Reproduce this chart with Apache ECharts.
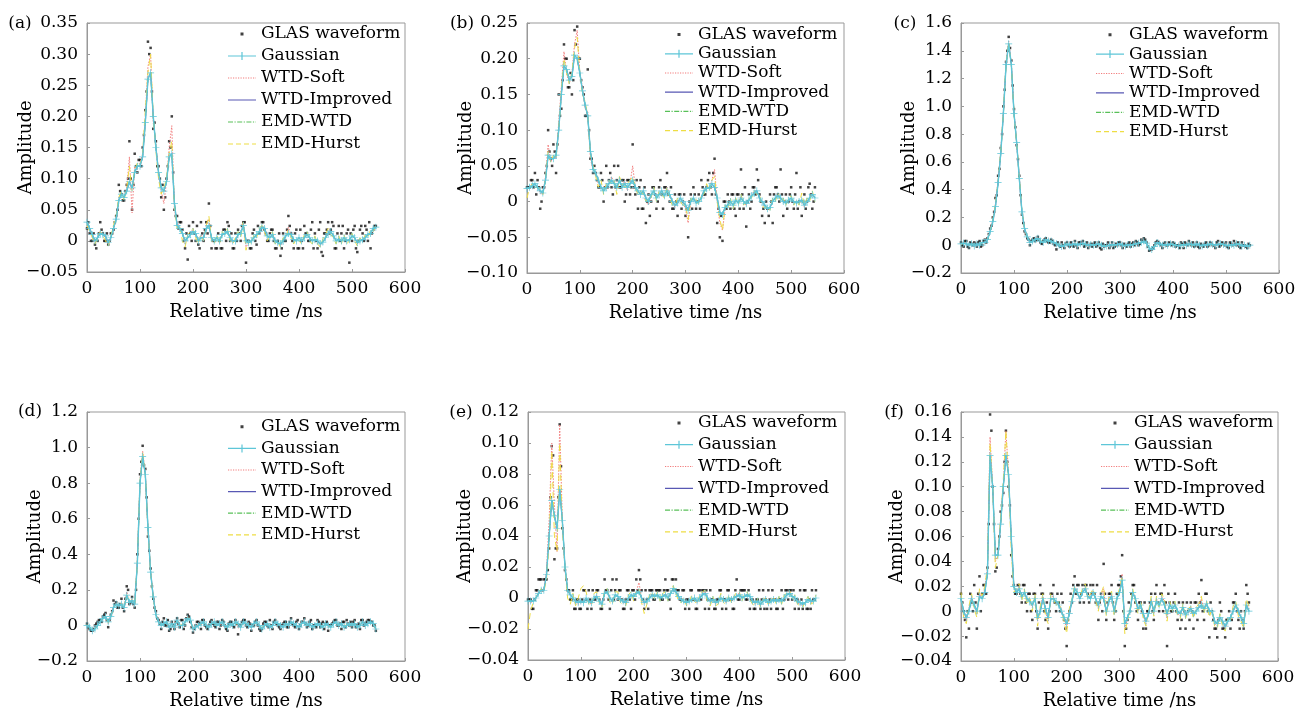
<!DOCTYPE html>
<html>
<head>
<meta charset="utf-8">
<script src="https://cdn.jsdelivr.net/npm/echarts@6/dist/echarts.min.js"></script>
<style>
html, body { margin: 0; padding: 0; background: #fff; }
#main { width: 1299px; height: 709px; }
</style>
</head>
<body>
<div id="main"></div>
<script>
// sample times (ns), shared by every panel
var times = [0,5,10,15,20,25,30,35,40,45,50,55,60,65,70,75,80,85,90,95,
  100,105,110,115,120,125,130,135,140,145,150,155,160,165,170,175,180,185,190,195,
  200,205,210,215,220,225,230,235,240,245,250,255,260,265,270,275,280,285,290,295,
  300,305,310,315,320,325,330,335,340,345,350,355,360,365,370,375,380,385,390,395,
  400,405,410,415,420,425,430,435,440,445,450,455,460,465,470,475,480,485,490,495,
  500,505,510,515,520,525,530,535,540,545];
// extra raw-waveform sample times in between
var midTimes = [2.5,7.5,12.5,17.5,22.5,27.5,32.5,37.5,42.5,47.5,52.5,57.5,62.5,67.5,72.5,77.5,82.5,87.5,92.5,97.5,
  102.5,107.5,112.5,117.5,122.5,127.5,132.5,137.5,142.5,147.5,152.5,157.5,162.5,167.5,172.5,177.5,182.5,187.5,192.5,197.5,
  202.5,207.5,212.5,217.5,222.5,227.5,232.5,237.5,242.5,247.5,252.5,257.5,262.5,267.5,272.5,277.5,282.5,287.5,292.5,297.5,
  302.5,307.5,312.5,317.5,322.5,327.5,332.5,337.5,342.5,347.5,352.5,357.5,362.5,367.5,372.5,377.5,382.5,387.5,392.5,397.5,
  402.5,407.5,412.5,417.5,422.5,427.5,432.5,437.5,442.5,447.5,452.5,457.5,462.5,467.5,472.5,477.5,482.5,487.5,492.5,497.5,
  502.5,507.5,512.5,517.5,522.5,527.5,532.5,537.5,542.5];

var seriesNames = ['GLAS waveform', 'Gaussian', 'WTD-Soft', 'WTD-Improved', 'EMD-WTD', 'EMD-Hurst'];

// (a)
var aGlas = [0.02,0.012,0,-0.006,0,0.03,0.012,0,-0.006,0.012,
  0.018,0.04,0.09,0.075,0.065,0.09,0.16,0.05,0.14,0.11,
  0.13,0.15,0.21,0.32,0.31,0.18,0.16,0.12,0.07,0.05,
  0.1,0.16,0.2,0.05,0.04,0.03,0.018,-0.012,-0.03,0.012,
  0.03,0,-0.006,0.03,0,0.03,0.06,-0.012,0,-0.012,
  0,-0.012,0.018,0.03,0,-0.012,0.012,0.018,0,0.03,
  -0.035,0,-0.012,0.018,-0.006,0.012,0.03,0.018,0,0.012,
  0.018,-0.012,0,-0.024,0.012,0,0.04,0.012,-0.012,0.018,
  -0.012,0,0.024,0.012,0,0.03,0.012,-0.012,0.03,-0.024,
  0.012,0.03,0.018,0.024,-0.012,0.024,0.012,-0.012,0.012,-0.035,
  0,0.024,-0.018,0.018,0.012,0.024,0,-0.012,0.018,0.024];
var aGlasMid = [0.03,0,0.012,-0.012,0.012,0.018,0,0.012,0,0.012,
  0.03,0.05,0.08,0.065,0.08,0.1,0.1,0.09,0.12,0.13,
  0.12,0.17,0.24,0.3,0.24,0.19,0.12,0.1,0.09,0.07,
  0.12,0.15,0.11,0.04,0.02,0.03,0,0.012,0.024,0,
  0.012,0.024,-0.012,0.012,0.018,0.012,0.024,0,-0.012,0.012,
  -0.012,0.018,0,0.024,0.012,-0.012,0,0.012,0.024,0.03,
  0,-0.012,0.012,0,0.024,0.018,0.03,0.012,0,0.018,
  0,-0.012,0.012,-0.012,0,0.018,0.024,0,0.012,-0.012,
  0.018,-0.012,0.012,0,0.018,-0.012,0,0.018,-0.018,0.012,
  0.018,0.012,0.03,-0.012,0.012,0,0.024,0,0.018,0.012,
  0.018,-0.012,0,0.024,0,0.018,0.03,0.012,0.024];
var aSmooth = [0.03,0.02,0.01,0,0.005,0.012,0.01,0.008,-0.003,0.005,
  0.02,0.035,0.065,0.075,0.07,0.08,0.095,0.085,0.11,0.12,
  0.12,0.135,0.19,0.26,0.27,0.2,0.15,0.11,0.085,0.08,
  0.095,0.135,0.14,0.06,0.025,0.02,0.012,0,0.005,0.01,
  0.015,0.012,0,0.005,0.005,0.02,0.025,0.005,0,0.005,
  0,0.01,0.012,0.015,0.005,0,0,0.01,0.012,0.025,
  0,-0.003,0,0.005,0.01,0.015,0.022,0.02,0.008,0.005,
  0.01,0,-0.003,-0.005,0,0.008,0.012,0.01,0.002,0,
  0.005,0,0.005,0.01,0.005,0,0.002,0,-0.005,-0.002,
  0.005,0.012,0.015,0.008,0,0.003,0,0.005,0,0.002,
  0.008,0.005,-0.003,0,0.002,0.005,0.01,0.012,0.02,0.022];
var aSoft = [0.03,0.02,0.008,-0.002,0.005,0.015,0.01,0.005,-0.005,0.005,
  0.02,0.035,0.07,0.075,0.07,0.085,0.135,0.045,0.12,0.115,
  0.125,0.14,0.2,0.28,0.3,0.19,0.155,0.11,0.08,0.06,
  0.095,0.15,0.185,0.05,0.03,0.02,0.012,-0.005,0.005,0.01,
  0.02,0.01,0,0.01,0.005,0.025,0.035,0,0,0.005,
  0,0.01,0.015,0.015,0.005,-0.002,0,0.01,0.012,0.028,
  -0.01,-0.003,0,0.005,0.01,0.015,0.025,0.02,0.008,0.005,
  0.012,0,-0.003,-0.008,0,0.008,0.022,0.01,0,0,
  0.005,0,0.008,0.01,0.005,0,0.002,0,-0.008,-0.002,
  0.005,0.015,0.015,0.008,0,0.003,0,0.005,0,0.002,
  0.008,0.005,-0.005,0,0.002,0.005,0.01,0.012,0.02,0.025];
var aHurst = [0.025,0.015,0.005,-0.005,0.005,0.015,0.008,0,-0.008,0.008,
  0.025,0.04,0.07,0.08,0.065,0.085,0.12,0.08,0.115,0.125,
  0.12,0.14,0.21,0.27,0.3,0.2,0.145,0.1,0.075,0.085,
  0.1,0.14,0.16,0.055,0.02,0.025,0,-0.01,0.01,0.015,
  0.02,0.005,-0.005,0.01,0,0.025,0.04,0,-0.005,0.01,
  -0.005,0.015,0.01,0.02,0,-0.005,0.005,0.015,0.005,0.03,
  -0.015,0,-0.005,0.01,0.005,0.02,0.025,0.015,0,0.01,
  0.015,-0.005,0,-0.01,0.005,0.005,0.018,0.005,-0.005,0.005,
  0,-0.005,0.01,0.015,0,-0.005,0.008,-0.005,-0.01,0.003,
  0.01,0.02,0.01,0.005,-0.005,0.008,-0.005,0.01,-0.005,0,
  0.012,0,-0.008,0.005,0,0.01,0.005,0.018,0.015,0.025];

// (b)
var bGlas = [0.02,0.02,0.03,0.04,0.03,-0.01,0.02,0.04,0.1,0.06,
  0.08,0.04,0.15,0.13,0.22,0.2,0.16,0.15,0.24,0.245,
  0.2,0.16,0.12,0.185,0.06,0.04,0.04,0.02,0.04,0,
  0.05,0.03,0.02,0.05,0.03,0.02,0.03,0,0.03,0.01,
  0.08,0.01,-0.01,0.03,-0.01,-0.03,0.01,0,0.02,-0.01,
  0.02,0.01,0.02,0.04,0,-0.01,0.01,-0.02,0.01,0,
  -0.02,-0.05,0.01,0.02,-0.01,0.01,0.03,0.01,0.02,0.04,
  0.01,0.06,-0.03,-0.05,-0.055,0,0.01,-0.01,0.01,-0.02,
  0.01,0.045,-0.01,-0.035,0.01,0,0.02,0.045,0.01,-0.02,
  -0.03,-0.01,0.01,-0.03,0.02,0.01,0.045,-0.02,0.01,0,
  0.02,-0.01,0.04,0,-0.02,0.01,0,0.025,-0.01,0.02];
var bGlasMid = [0.02,0.03,0.02,0.01,0.02,0,0.02,0.05,0.07,0.05,
  0.07,0.08,0.12,0.17,0.2,0.16,0.18,0.17,0.22,0.2,
  0.17,0.15,0.12,0.1,0.06,0.05,0.03,0.02,0.03,0.02,
  0.02,0.04,0.01,0.02,0.05,0.02,0.03,0.01,0.03,0.02,
  0.02,0.03,0.02,-0.01,0.02,0,-0.02,0.02,0.01,0,
  0.03,-0.01,0.02,0.01,0.02,-0.01,0,0.01,-0.01,0.01,
  -0.01,0,-0.01,0.01,0,-0.01,0.02,0.01,0.03,0.02,
  0.04,0.01,-0.01,-0.02,0,-0.01,0,0.01,-0.01,0.01,
  -0.01,0.01,0.02,0,-0.01,0.02,0.01,0.03,0,-0.01,
  0,-0.02,0,0.01,0.02,0,0.01,0,-0.01,0.01,
  0,0.01,-0.01,0.02,0,-0.01,0.02,0.01,0];
var bSmooth = [0.018,0.02,0.022,0.025,0.02,0.015,0.012,0.03,0.065,0.06,
  0.06,0.065,0.1,0.15,0.19,0.185,0.17,0.175,0.205,0.2,
  0.18,0.155,0.135,0.12,0.07,0.045,0.04,0.03,0.02,0.015,
  0.02,0.025,0.03,0.025,0.02,0.03,0.02,0.025,0.02,0.025,
  0.03,0.02,0.015,0.01,0.015,0.005,0,0.01,0.015,0.005,
  0.01,0.015,0.008,0.015,0.01,0,-0.005,-0.002,0.005,0,
  -0.005,-0.012,0,0.005,-0.002,0,0.005,0.015,0.018,0.02,
  0.025,0.02,0.005,-0.015,-0.018,-0.008,-0.005,0,-0.005,0.002,
  -0.002,0.005,0,-0.003,0.002,0.008,0.012,0.015,0.005,0,
  -0.005,-0.01,-0.008,0,0.005,0.008,0.005,0,-0.002,0.002,
  0.005,0,-0.002,0,0.002,-0.005,0,0.005,0.01,0.005];
var bSoft = [0.018,0.02,0.025,0.025,0.02,0.012,0.01,0.035,0.08,0.055,
  0.065,0.06,0.11,0.16,0.21,0.18,0.165,0.18,0.22,0.24,
  0.18,0.16,0.13,0.125,0.06,0.045,0.04,0.025,0.02,0.015,
  0.025,0.025,0.035,0.025,0.02,0.03,0.02,0.03,0.015,0.025,
  0.05,0.02,0.01,0.01,0.015,0,-0.005,0.01,0.015,0.005,
  0.01,0.015,0.008,0.02,0.01,0,-0.008,-0.002,0.005,0,
  -0.01,-0.03,0,0.005,-0.002,0,0.005,0.015,0.02,0.02,
  0.03,0.045,0,-0.03,-0.04,-0.01,-0.005,0,-0.005,0.002,
  -0.002,0.008,0,-0.005,0.002,0.008,0.015,0.015,0.005,0,
  -0.008,-0.01,-0.008,0,0.005,0.01,0.005,0,-0.002,0.002,
  0.005,0,-0.002,0,0.002,-0.008,0,0.005,0.012,0.005];
var bHurst = [0.005,0.02,0.025,0.02,0.02,0.018,0.01,0.03,0.07,0.055,
  0.065,0.06,0.1,0.155,0.2,0.18,0.165,0.18,0.215,0.23,
  0.18,0.15,0.14,0.12,0.065,0.05,0.035,0.02,0.03,0.01,
  0.025,0.03,0.025,0.03,0.01,0.035,0.025,0.02,0.025,0.03,
  0.035,0.02,0.01,0.015,0.01,0,0.005,0.005,0.02,0,
  0.015,0.01,0.005,0.02,0.005,-0.005,-0.005,0.005,0,-0.005,
  -0.005,-0.025,0.005,0,0.003,-0.005,0.01,0.01,0.025,0.015,
  0.03,0.035,0,-0.025,-0.04,-0.005,-0.01,0.005,-0.01,0.005,
  -0.005,0.01,-0.005,0,0.005,0.005,0.015,0.01,0.01,-0.005,
  -0.01,-0.005,-0.012,0.005,0,0.012,0,0.005,-0.005,0.005,
  0.008,-0.005,0.002,-0.005,0.012,-0.005,0.005,0,0.015,0];

// (c)
var cGlas = [0.02,-0.01,0.03,-0.02,0.01,0.02,-0.01,0.03,0,0.04,
  0.05,0.12,0.2,0.34,0.5,0.7,1.0,1.32,1.5,1.33,
  0.98,0.72,0.5,0.22,0.1,0.05,0,0.04,0.03,0.06,
  0.02,0.03,0.05,0.02,0.04,0.01,-0.03,0,0.02,-0.02,
  0.02,-0.01,0,0.03,-0.02,0.02,0.03,0,-0.02,0.01,
  0.01,-0.01,0.02,-0.03,-0.01,0,-0.02,0.02,-0.01,0,
  0.02,-0.02,0,0.01,-0.01,0.02,0.03,0,0.04,0.05,
  0.02,-0.04,-0.03,0,0.03,0.01,-0.02,0.02,0,0.01,
  0.02,-0.01,0,0.02,-0.02,0.01,0.03,0,-0.01,0.02,
  -0.02,0,0.01,-0.01,0.02,0,-0.02,0.03,0,0.01,
  0.02,-0.02,0.01,0.03,0,-0.01,0.02,0,-0.02,0];
var cGlasMid = [0,0.03,-0.01,0.02,0,0.01,0.02,-0.01,0.03,0.02,
  0.08,0.14,0.24,0.36,0.55,0.8,1.12,1.4,1.42,1.15,
  0.85,0.62,0.36,0.16,0.08,0.04,0.03,0.05,0.04,0.04,
  0.01,0.04,0.03,0.02,0.03,0,0.02,-0.01,0,0.01,
  0,0.02,-0.01,0,0.02,0.01,-0.01,0.02,0,-0.01,
  0.02,0,-0.02,0.01,0,0.02,0,-0.02,0.01,0.02,
  0,0.01,-0.01,0.02,0.01,0,0.02,0.01,0.03,0.04,
  -0.01,-0.03,-0.02,0.02,0.02,0,0.01,0,0.02,0,
  0.01,0,-0.02,0.01,0.02,0,0.01,0.02,0,-0.01,
  0.01,-0.01,0.02,0,0.01,0,0.02,-0.01,0.02,0,
  -0.01,0.02,0,0.01,0.02,-0.02,0,-0.01,0.01];
var cSmooth = [0.01,0.015,0.01,0,0.01,-0.005,0.01,0,0.02,0.02,
  0.04,0.1,0.17,0.28,0.45,0.66,0.95,1.3,1.45,1.3,
  0.95,0.74,0.48,0.24,0.12,0.06,0.02,0.03,0.04,0.05,
  0.03,0.02,0.04,0.03,0.03,0.02,0.01,0,-0.01,0,
  0.01,0,0.005,0.01,0,0.01,0.015,0.005,0,0.005,
  0,0.005,0.01,0,-0.01,-0.005,0,0.005,0,0.005,
  0.01,0,-0.005,0.005,0,0.005,0.01,0.015,0.02,0.03,
  0.015,-0.02,-0.03,-0.01,0.02,0.01,0,0.005,0,0.01,
  0.005,0,-0.005,0,0.005,0,0.01,0.005,0,0.01,
  0,-0.005,0.005,0,0.01,0.005,0,0.005,0.01,0.005,
  0,-0.005,0.005,0,0.01,0.005,-0.005,0,-0.01,0];
var cSoft = [0.01,0.02,0.005,0,0.012,-0.008,0.012,-0.002,0.025,0.02,
  0.045,0.11,0.18,0.3,0.47,0.68,0.97,1.32,1.47,1.31,
  0.96,0.73,0.5,0.23,0.11,0.06,0.015,0.035,0.04,0.055,
  0.03,0.02,0.045,0.025,0.035,0.015,0.005,0,-0.015,0,
  0.015,-0.005,0.005,0.015,-0.005,0.015,0.02,0.005,-0.005,0.005,
  0.005,0,0.015,-0.005,-0.015,0,-0.005,0.01,0,0.005,
  0.015,-0.005,-0.005,0.005,-0.005,0.01,0.015,0.01,0.025,0.035,
  0.015,-0.025,-0.035,-0.005,0.025,0.01,-0.005,0.01,0,0.01,
  0.01,-0.005,-0.005,0.005,0,0,0.015,0.005,-0.005,0.01,
  -0.005,-0.005,0.005,-0.005,0.015,0.005,-0.005,0.01,0.01,0.005,
  0.005,-0.01,0.005,0.01,0.005,0,0,0,-0.015,0];
var cHurst = [0.005,0.015,0.01,-0.005,0.01,0,0.005,0.005,0.015,0.025,
  0.04,0.1,0.18,0.29,0.46,0.67,0.96,1.31,1.46,1.3,
  0.95,0.74,0.49,0.24,0.12,0.055,0.02,0.03,0.045,0.05,
  0.035,0.02,0.04,0.03,0.025,0.02,0.01,0.005,-0.01,0.005,
  0.01,0,0,0.01,0.005,0.01,0.01,0.005,0,0.005,
  0,0.005,0.005,0,-0.005,-0.005,0,0.005,-0.005,0.005,
  0.01,0,-0.005,0.005,0,0.005,0.01,0.015,0.02,0.03,
  0.01,-0.02,-0.03,-0.01,0.02,0.01,0,0.005,0,0.01,
  0.005,0,-0.005,0.005,0,0.005,0.01,0,0,0.01,
  0,-0.005,0.005,0.005,0.01,0,0,0.005,0.01,0,
  0.005,-0.005,0,0.005,0.01,0.005,-0.005,0.005,-0.01,0];

// (d)
var dGlas = [0.01,-0.02,-0.03,0,0.02,0.03,0.05,0.07,-0.01,0.06,
  0.14,0.13,0.1,0.15,0.08,0.22,0.12,0.16,0.1,0.4,
  0.85,1.01,0.88,0.5,0.32,0.15,0.08,0.03,-0.02,0.04,
  0,-0.03,0.02,-0.02,0.04,-0.01,0.03,0,0.06,0.02,
  -0.04,0,0.02,-0.02,0.03,-0.01,0,0.03,0,0.02,
  -0.02,0.03,0,-0.03,0.02,0,0.03,-0.05,0,0.03,
  0,0.02,-0.03,0,0.03,-0.02,-0.02,0.02,0,0.03,
  -0.02,0.03,0,-0.02,0.01,0.02,-0.01,0.04,0,0.02,
  -0.02,0.02,0.04,-0.01,0.02,-0.02,0,0.03,-0.01,0.02,
  0.01,-0.03,0,0.02,0.03,0,-0.02,0.02,0.03,0,
  -0.01,0.03,0,-0.02,0.03,0.01,0.03,0.02,0,-0.03];
var dGlasMid = [-0.01,-0.03,-0.02,0.01,0.03,0.02,0.06,0.03,0.03,0.08,
  0.12,0.1,0.12,0.1,0.15,0.2,0.13,0.12,0.2,0.6,
  0.92,0.9,0.72,0.42,0.22,0.1,0.04,0.01,0.02,0,
  0.03,-0.02,0,0.02,0.01,0.03,-0.02,0.04,0.05,-0.01,
  -0.02,0.02,0.01,0.03,0,-0.02,0.02,0.01,-0.01,0.02,
  0,0.02,-0.02,0.01,0.02,-0.01,0.01,0,0.02,0.03,
  -0.01,0.01,0,0.02,0,-0.03,0.01,0.02,-0.01,0,
  0.02,0.01,-0.01,0,0.02,-0.01,0.02,0.01,-0.01,0.03,
  0,0.02,0.01,0,0.03,0,-0.01,0.02,0.01,-0.02,
  0.02,0,0.01,0.03,0,0.01,0.02,-0.01,0.01,0.02,
  0.02,-0.01,0.01,0.03,0,0.02,0.03,0.02,0];
var dSmooth = [0,-0.01,-0.03,-0.02,0,0.02,0.04,0.05,0.02,0.05,
  0.1,0.12,0.11,0.12,0.1,0.17,0.13,0.14,0.12,0.35,
  0.8,0.95,0.85,0.55,0.3,0.16,0.06,0.02,0,0.01,
  0.02,-0.01,0.01,-0.01,0.03,0,0,0.02,0.04,0.03,
  -0.02,-0.01,0,0.01,0.02,0,-0.01,0.01,0.02,0,
  0.01,0.02,0,-0.01,0.01,0,0.02,0.01,-0.01,0.02,
  0.01,0,-0.01,0.01,0.02,0,-0.02,0,0.01,-0.01,
  0,0.02,0.01,0,-0.01,0.01,0,0.02,0.01,0,
  -0.01,0.01,0.02,0,0.01,-0.01,0,0.01,0,-0.01,
  0.01,0,-0.01,0.01,0.02,0,0.01,-0.01,0,0.01,
  0,0.01,-0.01,0,0.02,0,0.01,0.02,0.01,-0.02];
var dSoft = [0,-0.015,-0.03,-0.015,0.005,0.02,0.045,0.055,0.01,0.055,
  0.11,0.125,0.105,0.13,0.095,0.19,0.125,0.15,0.115,0.37,
  0.82,0.98,0.86,0.53,0.31,0.16,0.065,0.025,-0.005,0.015,
  0.015,-0.015,0.015,-0.015,0.035,-0.005,0.01,0.015,0.05,0.025,
  -0.025,-0.005,0.01,0,0.025,-0.005,-0.005,0.015,0.01,0.005,
  0,0.025,0,-0.015,0.015,0,0.025,-0.015,-0.005,0.025,
  0.005,0.01,-0.015,0.005,0.025,-0.005,-0.02,0.01,0.005,0,
  -0.005,0.025,0.005,-0.005,0,0.015,-0.005,0.025,0.005,0.005,
  -0.015,0.015,0.025,-0.005,0.015,-0.015,0,0.015,-0.005,0,
  0.01,-0.01,-0.005,0.015,0.025,0,0,0,0.01,0.005,
  -0.005,0.015,-0.005,-0.005,0.025,0.005,0.015,0.02,0.005,-0.025];
var dHurst = [0.005,-0.01,-0.025,-0.02,0,0.025,0.035,0.05,0.015,0.05,
  0.1,0.12,0.11,0.125,0.1,0.175,0.13,0.145,0.115,0.36,
  0.81,0.97,0.85,0.54,0.3,0.155,0.06,0.02,0,0.01,
  0.02,-0.01,0.01,-0.01,0.03,0,0.005,0.015,0.045,0.03,
  -0.02,-0.01,0.005,0.005,0.02,0,-0.01,0.01,0.015,0,
  0.005,0.02,0,-0.01,0.01,0,0.02,-0.005,-0.01,0.02,
  0.01,0.005,-0.01,0.005,0.02,0,-0.015,0.005,0.01,-0.005,
  0,0.02,0.01,0,-0.005,0.01,0,0.02,0.01,0,
  -0.01,0.01,0.02,0,0.01,-0.01,0,0.01,0,-0.005,
  0.01,-0.005,-0.01,0.01,0.02,0,0.005,-0.005,0.005,0.01,
  0,0.01,-0.01,0,0.02,0,0.01,0.02,0.01,-0.02];

// (e)
var eGlas = [-0.001,-0.001,-0.007,0.005,0.012,0.012,0.012,0.012,0.032,0.098,
  0.025,0.032,0.112,0.045,0.018,0.005,-0.001,0.005,-0.007,-0.001,
  -0.007,0.005,-0.001,0.005,-0.007,-0.001,0.005,-0.001,-0.007,0.012,
  0.005,-0.007,0.012,0.005,-0.001,0.005,-0.007,-0.001,0.005,-0.007,
  0.005,0.012,0.018,0.005,-0.007,-0.001,0.005,0.005,-0.001,0.005,
  0.005,-0.001,0.012,0.005,-0.007,0.012,0.012,0.005,-0.001,0.005,
  -0.001,-0.007,0.005,-0.001,-0.007,0.005,0.005,-0.007,-0.001,0.005,
  -0.001,-0.007,-0.001,0.005,-0.001,-0.007,0.005,-0.001,-0.007,0.012,
  -0.001,0.005,0.005,-0.001,-0.007,-0.001,-0.007,-0.001,-0.007,0.005,
  -0.001,0.005,-0.007,-0.001,-0.007,-0.001,0.005,-0.001,0.005,0.005,
  -0.001,-0.007,-0.001,0.005,-0.007,0.005,-0.007,-0.007,-0.001,0.005];
var eGlasMid = [-0.001,-0.007,-0.001,0.005,0.012,0.005,0.012,0.018,0.065,0.092,
  0.032,0.065,0.085,0.032,0.012,0.005,-0.001,-0.007,-0.001,-0.007,
  -0.001,0.005,-0.007,-0.001,0.005,-0.001,0.005,-0.007,-0.001,0.005,
  -0.001,0.005,-0.001,0.012,0.005,-0.001,-0.007,0.005,-0.001,0.005,
  -0.001,0.005,0.012,-0.001,0.005,-0.007,0.005,-0.001,0.005,0.005,
  -0.001,0.005,0.005,-0.001,0.012,0.005,0.005,-0.001,0.005,-0.007,
  -0.001,0.005,-0.001,-0.007,0.005,-0.001,0.005,0.005,-0.007,-0.001,
  -0.007,-0.001,0.005,-0.007,-0.001,0.005,-0.001,-0.007,0.005,-0.001,
  0.005,0.005,-0.001,0.005,-0.001,-0.007,-0.001,0.005,-0.001,-0.007,
  -0.007,-0.001,0.005,-0.001,-0.007,-0.001,-0.007,0.005,-0.001,0.005,
  0.005,-0.001,-0.007,-0.001,0.005,-0.007,-0.001,0.005,-0.001];
var eSmooth = [-0.002,-0.002,-0.002,0,0.003,0.005,0.005,0.015,0.04,0.063,
  0.053,0.045,0.07,0.05,0.02,0.005,0.002,0,-0.002,-0.003,
  -0.002,-0.003,0,-0.002,-0.003,0,0.001,-0.002,-0.004,0.003,
  0.004,0,-0.002,0.002,0.001,-0.001,-0.002,-0.003,0,0.002,
  0.001,0.003,0.004,0,-0.003,-0.002,0,0.002,0.001,0.002,
  0,0.001,0.002,0,0.003,0.006,0.004,0.001,-0.001,-0.002,
  -0.003,-0.002,-0.001,0,-0.002,0,0.002,0.003,0,-0.002,
  -0.001,-0.003,-0.002,0,-0.001,-0.002,0,-0.001,0,0.001,
  0.002,0,0.001,0.002,0.001,-0.002,-0.003,-0.002,-0.004,-0.002,
  -0.001,-0.003,-0.002,-0.001,-0.002,-0.001,-0.002,0,0.002,0.003,
  0.001,0,-0.002,-0.003,-0.004,-0.003,-0.001,-0.002,-0.002,0];
var eSoft = [-0.002,-0.003,-0.002,0,0.004,0.006,0.005,0.018,0.05,0.1,
  0.06,0.03,0.112,0.05,0.018,0.004,0.002,0,-0.003,-0.004,
  -0.003,-0.003,0,-0.003,-0.004,0,0.002,-0.003,-0.005,0.004,
  0.005,0,-0.003,0.002,0.001,-0.001,-0.003,-0.004,0,0.002,
  0.001,0.004,0.01,0,-0.004,-0.002,0,0.003,0.001,0.002,
  0,0.001,0.003,0,0.003,0.007,0.005,0.001,-0.002,-0.002,
  -0.004,-0.002,-0.001,0,-0.003,0,0.003,0.004,0,-0.003,
  -0.001,-0.004,-0.002,0,-0.001,-0.003,0,-0.001,0,0.002,
  0.003,0,0.001,0.003,0.001,-0.003,-0.004,-0.002,-0.005,-0.002,
  -0.001,-0.004,-0.002,-0.001,-0.003,-0.001,-0.002,0,0.002,0.004,
  0.001,0,-0.003,-0.004,-0.005,-0.003,-0.001,-0.003,-0.002,0];
var eHurst = [-0.02,-0.008,-0.003,0,0.004,0.006,0.004,0.012,0.035,0.095,
  0.04,0.03,0.1,0.045,0.02,0,-0.004,0.003,-0.005,0,
  0.006,0.008,0.004,-0.004,-0.005,0.003,0.004,-0.003,-0.006,0.005,
  0.006,-0.003,-0.004,0.004,0.004,-0.003,-0.004,-0.005,0.002,0.004,
  -0.002,0.004,0.006,-0.003,-0.01,-0.004,0.002,0.004,-0.001,0.004,
  -0.002,0.003,0.004,-0.002,0.004,0.008,0.003,-0.002,-0.003,0,
  -0.005,-0.003,0.002,-0.002,-0.004,0.002,0.004,0.005,-0.003,-0.005,
  0.001,-0.005,-0.004,0.003,-0.003,-0.004,0.002,-0.003,0.001,0.004,
  0.004,-0.002,0.003,0.004,-0.001,-0.004,-0.005,0,-0.006,-0.001,
  0.001,-0.005,-0.001,0.001,-0.004,0.001,-0.004,0.002,0.003,0.005,
  -0.001,0.002,-0.004,-0.005,-0.006,-0.002,0.001,-0.004,-0.003,0.002];

// (f)
var fGlas = [0.014,0,-0.021,-0.014,0.007,0.021,-0.014,0.028,0.014,0.021,
  0.035,0.158,0.1,0.032,0.05,0.08,0.095,0.145,0.1,0.045,
  0.021,0.014,0.021,0.007,0.021,0,0.014,-0.007,0.014,-0.014,
  0.021,0.014,-0.007,-0.014,0.014,0.021,0,0.007,0.014,-0.007,
  -0.028,0,0.007,0.028,0.021,0.007,0.021,0.021,0.014,0.021,
  0.021,0.007,-0.007,0.014,0.038,-0.007,0.014,0.021,-0.007,0.014,
  0.021,0.045,-0.028,-0.007,0,0.021,0.007,-0.007,0.007,-0.014,
  -0.014,0,0.014,-0.007,0.021,0,0.014,0.021,-0.028,0.007,
  0,0.014,-0.007,-0.014,0.007,-0.014,0,0.007,-0.014,0.007,
  0.014,0.025,-0.007,0.014,-0.021,0,-0.014,-0.021,0.007,-0.014,
  -0.021,-0.007,-0.014,0.007,0.014,-0.007,0,-0.014,0.021,0.007];
var fGlasMid = [0.007,-0.007,0,0.014,0,0.007,0.014,0,0.021,0.014,
  0.07,0.145,0.07,0.035,0.06,0.085,0.12,0.12,0.085,0.028,
  0.014,0.021,0.014,0.021,0.007,0.014,0,0.014,0,0.007,
  0.014,0,0.007,0,0.014,0.007,0.014,0,0.007,-0.014,
  -0.007,0.014,0.021,0.014,0.021,0.014,0.007,0.021,0.007,0.014,
  0.014,0.021,0.007,0,0.014,0.007,0.014,0.007,0,0.021,
  0.028,0,-0.014,0.007,0.014,0.021,0,0.007,0,0.007,
  0,0.007,0,0.014,0.007,0.014,0,0.007,0.014,0,
  0.007,0,0.007,-0.007,0,0.007,-0.007,0,0.007,-0.007,
  0.007,0,0.014,0,0.007,-0.007,-0.014,-0.007,0,-0.014,
  -0.007,0,-0.007,0.007,0,-0.014,-0.007,0,0.014];
var fSmooth = [0.01,0,-0.005,0,0.01,0.005,0,0.012,0.01,0.015,
  0.03,0.125,0.1,0.045,0.045,0.07,0.1,0.125,0.11,0.06,
  0.02,0.015,0.018,0.012,0.015,0.01,0.008,0.005,0.01,-0.005,
  0,0.01,0.002,-0.005,0.01,0.01,0.008,0.005,0,-0.005,
  -0.01,-0.002,0.008,0.018,0.015,0.01,0.015,0.018,0.012,0.01,
  0.015,0.01,0.005,0.012,0.01,0,0.008,0.012,0,0.01,
  0.015,0.025,-0.01,-0.005,0,0.015,0.01,0.002,0.005,-0.002,
  -0.008,-0.002,0.008,0,0.008,0.005,0.01,0.005,-0.002,0.005,
  0.002,0.005,0,-0.002,0.003,-0.003,0,0.002,-0.002,0,
  0.003,0.005,0.002,0.006,0,0,-0.008,-0.01,-0.005,-0.008,
  -0.012,-0.008,-0.005,0,0.005,0,-0.005,-0.01,0.005,0];
var fSoft = [0.012,-0.002,-0.008,0.002,0.012,0.004,-0.002,0.015,0.01,0.018,
  0.035,0.14,0.1,0.04,0.045,0.075,0.1,0.145,0.11,0.055,
  0.018,0.015,0.02,0.01,0.016,0.008,0.01,0.003,0.012,-0.008,
  0.002,0.012,0,-0.008,0.012,0.012,0.006,0.006,0.002,-0.006,
  -0.014,0,0.008,0.02,0.016,0.01,0.016,0.02,0.012,0.012,
  0.016,0.01,0.002,0.012,0.018,-0.002,0.01,0.014,-0.002,0.01,
  0.016,0.03,-0.014,-0.006,0,0.016,0.01,0,0.006,-0.004,
  -0.01,-0.002,0.01,-0.002,0.01,0.004,0.012,0.008,-0.006,0.006,
  0.002,0.006,-0.002,-0.004,0.004,-0.005,0,0.003,-0.004,0.001,
  0.004,0.01,0,0.007,-0.003,0,-0.01,-0.012,-0.004,-0.01,
  -0.014,-0.008,-0.006,0.002,0.006,-0.002,-0.005,-0.012,0.008,0.002];
var fHurst = [0.015,-0.005,-0.01,0.004,0.014,0.002,-0.005,0.018,0.012,0.02,
  0.035,0.135,0.1,0.035,0.045,0.075,0.105,0.145,0.105,0.05,
  0.015,0.018,0.022,0.008,0.018,0.005,0.012,0,0.014,-0.012,
  0.004,0.014,-0.004,-0.01,0.014,0.01,0.004,0.008,0,-0.008,
  -0.018,0.002,0.01,0.02,0.014,0.012,0.018,0.022,0.01,0.014,
  0.018,0.008,0,0.014,0.02,-0.004,0.012,0.016,-0.004,0.012,
  0.018,0.028,-0.018,-0.008,0.002,0.018,0.008,-0.002,0.008,-0.006,
  -0.012,0,0.012,-0.004,0.012,0.002,0.014,0.01,-0.008,0.008,
  0,0.008,-0.004,-0.006,0.006,-0.006,0.002,0.004,-0.006,0.003,
  0.006,0.012,-0.002,0.008,-0.005,0.002,-0.012,-0.014,-0.002,-0.012,
  -0.016,-0.006,-0.008,0.004,0.008,-0.004,-0.008,-0.014,0.01,0.004];

var panels = [
  {tag: '(a)', glas: aGlas, glasMid: aGlasMid, smooth: aSmooth, soft: aSoft, hurst: aHurst, yMin: -0.05, yMax: 0.35, yStep: 0.05, dec: 2},
  {tag: '(b)', glas: bGlas, glasMid: bGlasMid, smooth: bSmooth, soft: bSoft, hurst: bHurst, yMin: -0.1, yMax: 0.25, yStep: 0.05, dec: 2},
  {tag: '(c)', glas: cGlas, glasMid: cGlasMid, smooth: cSmooth, soft: cSoft, hurst: cHurst, yMin: -0.2, yMax: 1.6, yStep: 0.2, dec: 1},
  {tag: '(d)', glas: dGlas, glasMid: dGlasMid, smooth: dSmooth, soft: dSoft, hurst: dHurst, yMin: -0.2, yMax: 1.2, yStep: 0.2, dec: 1},
  {tag: '(e)', glas: eGlas, glasMid: eGlasMid, smooth: eSmooth, soft: eSoft, hurst: eHurst, yMin: -0.04, yMax: 0.12, yStep: 0.02, dec: 2},
  {tag: '(f)', glas: fGlas, glasMid: fGlasMid, smooth: fSmooth, soft: fSoft, hurst: fHurst, yMin: -0.04, yMax: 0.16, yStep: 0.02, dec: 2}
];

// where things sit on the page
var layout = [
  {grid: [87, 23, 318, 249], legend: [228, 23, 22], tag: [20, 24], yGap: 52},
  {grid: [527, 23, 317, 250], legend: [665, 25, 19.2], tag: [462, 24], yGap: 52},
  {grid: [961, 23, 318, 250], legend: [1096, 25, 19.4], tag: [905, 24], yGap: 43},
  {grid: [87, 412, 318, 249], legend: [228, 416, 21.6], tag: [30, 412], yGap: 43},
  {grid: [528, 412, 317, 248], legend: [665, 412, 21.8], tag: [461, 413], yGap: 54},
  {grid: [961, 412, 317, 249], legend: [1101, 412, 21.8], tag: [894, 413], yGap: 55}
];

var FONT = 'DejaVu Serif';
var AXIS_COLOR = '#999';
var colors = {glas: '#111', gauss: '#5ec6d8', soft: '#f27c7c', improved: '#5858b4', emd: '#58c058', hurst: '#eedd44'};
var plusSymbol = 'path://M4.5,0h1v10h-1zM0,4.5h10v1h-10z';
// corner specks pin every legend icon to a 28x10 box
var ICON_BOX = 'path://M0,0h0.01v0.01h-0.01zM28,10h-0.01v-0.01h0.01z';
var dotIcon = ICON_BOX + 'M12.5,3.5h3v3h-3z';

function dashIcon(pattern, extra) {
  var d = ICON_BOX, x = 0, k = 0;
  while (x < 28) {
    var seg = pattern[k % pattern.length];
    var len = Math.min(seg, 28 - x);
    if (k % 2 === 0) d += 'M' + x + ',4.4h' + len + 'v1.2h-' + len + 'z';
    x += seg;
    k++;
  }
  return d + (extra || '');
}
var icons = {
  gauss: dashIcon([28], 'M13.4,1h1.2v8h-1.2z'),
  soft: dashIcon([1.2, 1.3]),
  improved: dashIcon([28]),
  emd: dashIcon([5, 1.5, 1.2, 1.5]),
  hurst: dashIcon([5, 3])
};

function pairs(xs, arr) {
  return xs.map(function (x, i) { return [x, arr[i]]; });
}

function tickFormatter(dec) {
  return function (v) {
    if (Math.abs(v) < 1e-9) return '0';
    return (v < 0 ? '\u2212' : '') + Math.abs(v).toFixed(dec);
  };
}

var grids = [], xAxes = [], yAxes = [], legends = [], series = [], graphics = [];

panels.forEach(function (p, i) {
  var L = layout[i];
  grids.push({
    left: L.grid[0], top: L.grid[1], width: L.grid[2], height: L.grid[3],
    show: true, borderColor: AXIS_COLOR, borderWidth: 1, containLabel: false, outerBoundsMode: 'none'
  });
  xAxes.push({
    gridIndex: i, type: 'value', min: 0, max: 600, interval: 100,
    name: 'Relative time /ns', nameLocation: 'middle', nameGap: 31, nameMoveOverlap: false,
    nameTextStyle: {fontFamily: FONT, fontSize: 18, color: '#000'},
    axisLine: {onZero: false, lineStyle: {color: AXIS_COLOR}},
    axisTick: {inside: true, length: 3, lineStyle: {color: AXIS_COLOR}},
    axisLabel: {color: '#000', fontFamily: FONT, fontSize: 17, margin: 8},
    splitLine: {show: false}
  });
  yAxes.push({
    gridIndex: i, type: 'value', min: p.yMin, max: p.yMax, interval: p.yStep,
    name: 'Amplitude', nameLocation: 'middle', nameGap: L.yGap, nameMoveOverlap: false,
    nameTextStyle: {fontFamily: FONT, fontSize: 18, color: '#000'},
    axisLine: {onZero: false, lineStyle: {color: AXIS_COLOR}},
    axisTick: {inside: true, length: 3, lineStyle: {color: AXIS_COLOR}},
    axisLabel: {color: '#000', fontFamily: FONT, fontSize: 17, margin: 9, formatter: tickFormatter(p.dec)},
    splitLine: {show: false}
  });
  legends.push({
    orient: 'vertical', left: L.legend[0], top: L.legend[1], padding: 0,
    itemWidth: 28, itemHeight: 10, itemGap: 0,
    textStyle: {fontFamily: FONT, fontSize: 17, color: '#000', lineHeight: L.legend[2]},
    data: [
      {name: 'GLAS waveform', icon: dotIcon},
      {name: 'Gaussian', icon: icons.gauss},
      {name: 'WTD-Soft', icon: icons.soft},
      {name: 'WTD-Improved', icon: icons.improved},
      {name: 'EMD-WTD', icon: icons.emd},
      {name: 'EMD-Hurst', icon: icons.hurst}
    ]
  });
  var common = {xAxisIndex: i, yAxisIndex: i, type: 'line', symbol: 'none', animation: false};
  series.push(Object.assign({}, common, {
    name: 'WTD-Improved', data: pairs(times, p.smooth), lineStyle: {color: colors.improved, width: 1}, itemStyle: {color: colors.improved}
  }));
  series.push(Object.assign({}, common, {
    name: 'EMD-WTD', data: pairs(times, p.smooth), lineStyle: {color: colors.emd, width: 1, type: [5, 2, 1, 2]}, itemStyle: {color: colors.emd}
  }));
  series.push(Object.assign({}, common, {
    name: 'WTD-Soft', data: pairs(times, p.soft), lineStyle: {color: colors.soft, width: 1, type: [1.5, 1.5]}, itemStyle: {color: colors.soft}
  }));
  series.push(Object.assign({}, common, {
    name: 'EMD-Hurst', data: pairs(times, p.hurst), lineStyle: {color: colors.hurst, width: 1, type: [6, 4]}, itemStyle: {color: colors.hurst}
  }));
  series.push(Object.assign({}, common, {
    name: 'Gaussian', data: pairs(times, p.smooth), symbol: plusSymbol, symbolSize: 7, showSymbol: true, showAllSymbol: true,
    lineStyle: {color: colors.gauss, width: 1.4}, itemStyle: {color: colors.gauss}
  }));
  series.push({
    name: 'GLAS waveform', type: 'scatter', xAxisIndex: i, yAxisIndex: i, animation: false,
    data: pairs(times, p.glas).concat(pairs(midTimes, p.glasMid)),
    symbol: 'rect', symbolSize: 2.5, itemStyle: {color: colors.glas}
  });
  graphics.push({
    type: 'text', x: L.tag[0], y: L.tag[1],
    style: {text: p.tag, font: '17px "' + FONT + '"', fill: '#000', align: 'center', verticalAlign: 'middle'}
  });
});

var chart = echarts.init(document.getElementById('main'), null, {renderer: 'canvas'});
chart.setOption({
  backgroundColor: '#fff',
  animation: false,
  grid: grids,
  xAxis: xAxes,
  yAxis: yAxes,
  legend: legends,
  series: series,
  graphic: graphics
});
</script>
</body>
</html>
